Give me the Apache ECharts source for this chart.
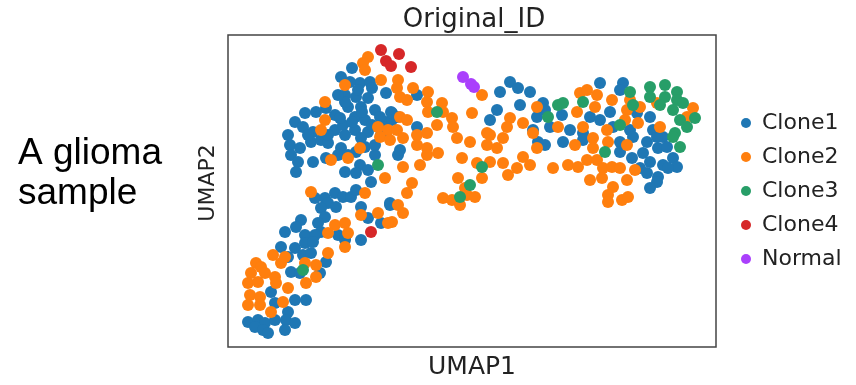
<!DOCTYPE html>
<html>
<head>
<meta charset="utf-8">
<script src="https://cdn.jsdelivr.net/npm/echarts@6/dist/echarts.min.js"></script>
<style>
  html, body { margin: 0; padding: 0; background: #fff; }
  #chart { width: 856px; height: 385px; }
</style>
</head>
<body>
<div id="chart"></div>
<script>
// UMAP coordinates (arbitrary units, x 0..488, y 0..312)
const categories = ["Clone1", "Clone2", "Clone3", "Clone4", "Normal"];
const colors = ["#1f77b4", "#ff7f0e", "#279e68", "#d62728", "#aa40fc"];

const clone1 = [
  [124,279],[113,270],[132,264],[142,265],[158,254],[117,252],[128,250],[140,249],[120,240],[133,240],
  [147,237],[163,235],[107,232],[98,239],[88,235],[77,234],[67,225],[75,220],[85,215],[107,217],
  [115,222],[127,230],[137,227],[127,217],[140,215],[158,225],[122,265],[130,257],[144,259],[134,235],
  [112,229],[124,225],[144,222],[152,230],[164,227],[117,245],[110,252],
  [282,265],[290,259],[302,255],[272,255],[269,237],[262,227],[292,242],[315,244],[317,237],[309,230],
  [322,220],[305,217],[189,252],[189,220],[164,234],[169,230],
  [372,264],[395,264],[392,257],[334,232],[362,230],[382,235],[385,220],[372,227],[342,217],[402,217],
  [422,230],[425,217],[435,210],[409,234],[355,214],
  [335,205],[355,207],[392,205],[405,210],[419,205],[429,210],[392,195],[404,189],[415,194],[430,199],
  [439,200],[422,185],[435,182],[445,189],[449,180],[412,179],[419,174],[430,170],[429,165],[422,159],
  [440,179],
  [170,192],[172,197],[162,144],[310,205],[317,202],
  [62,202],[72,199],[83,205],[93,207],[100,204],[113,199],[110,192],[120,192],[63,192],[70,185],
  [85,185],[98,189],[128,195],[137,200],[147,202],[132,182],[117,175],[128,174],[140,177],[143,165],
  [68,175],[87,149],[97,149],[107,154],[115,150],[123,150],[128,157],[100,144],[108,140],[93,139],
  [97,130],[90,124],[93,115],[73,127],[68,120],[57,115],[77,112],[87,112],[110,112],[117,109],
  [162,142],[133,140],[140,129],[153,124],[117,212],[133,209],[147,192],[153,212],[100,212],[80,212],
  [60,212],
  [53,100],[67,99],[77,104],[85,105],[60,90],[75,92],[83,94],[63,75],[72,74],[92,74],
  [98,85],[43,55],[47,44],[67,47],[78,47],[60,35],[58,27],[67,24],[57,17],[20,25],
  [30,27],[37,24],[27,20],[35,17],[47,27],[117,107],[133,107],[40,14]
];

const clone2 = [
  [140,290],[135,284],[137,277],[153,267],[117,262],[97,245],[97,227],[93,217],[150,220],[160,217],
  [170,267],[169,259],[185,259],[179,247],[172,250],[200,255],[199,245],[214,244],[215,235],[200,235],
  [244,234],[254,252],[224,229],[172,230],[179,227],[209,222],[225,220],[282,229],[279,220],[295,224],
  [309,240],[259,214],[305,214],[189,212],[199,214],[169,217],
  [352,254],[359,257],[369,252],[384,247],[349,235],[367,240],[399,237],[402,247],[412,240],[397,227],
  [410,224],[429,244],[465,239],[459,230],[330,220],[355,220],[432,220],[379,217],
  [325,179],[340,182],[350,180],[359,187],[365,199],[369,187],[375,179],[384,180],[392,179],[362,167],
  [374,169],[385,160],[399,167],[380,152],[380,145],[394,147],[400,150],[407,177],[347,202],[365,209],
  [380,205],[399,202],
  [175,209],[189,202],[199,199],[210,194],[199,192],[175,180],[192,182],[234,189],[249,184],[262,185],
  [275,184],[289,179],[295,190],[302,182],[280,172],[254,169],[230,169],[184,164],[179,154],[170,142],
  [175,134],[215,149],[224,147],[232,142],[239,152],[247,150],[237,159],[164,125],[229,209],[242,205],
  [259,202],[269,199],[275,209],[309,199],[262,212],
  [83,155],[137,154],[157,169],[152,210],[162,207],[103,187],[120,189],[133,132],[150,134],[160,124],
  [107,122],[117,124],[100,114],[120,114],[132,199],
  [45,92],[28,84],[33,80],[23,74],[37,74],[47,70],[20,64],[30,65],[48,64],[22,52],
  [32,50],[20,42],[32,42],[43,35],[55,45],[60,59],[77,84],[88,82],[88,70],[78,64],
  [100,94],[117,100],[53,84],[57,90]
];

const clone3 = [
  [209,235],[320,230],[330,242],[422,260],[437,262],[449,255],[422,250],[437,250],[449,247],[455,244],
  [445,237],[452,227],[467,229],[459,220],[447,214],[335,244],[355,245],[402,255],[405,242],[392,222],
  [432,242],[377,195],[452,200],[445,210],[254,180],[242,162],[232,150],[150,182],[75,77]
];

const clone4 = [[153,297],[171,293],[183,280],[158,286],[163,281],[143,115]];

const normal = [[235,270],[243,263],[246,260]];

const seriesData = [clone1, clone2, clone3, clone4, normal];

var chart = echarts.init(document.getElementById("chart"));

var option = {
  animation: false,
  color: colors,
  title: {
    text: "Original_ID",
    left: 469,
    top: 2,
    textAlign: "center",
    textStyle: { fontFamily: "DejaVu Sans", fontSize: 26, fontWeight: "normal", color: "#222" }
  },
  graphic: [
    {
      type: "text",
      left: 18,
      top: 134,
      style: {
        text: "A glioma\nsample",
        font: "37px 'Liberation Sans'",
        lineHeight: 40,
        fill: "#000"
      }
    }
  ],
  legend: {
    data: categories,
    orient: "vertical",
    left: 736,
    top: 107,
    icon: "circle",
    itemWidth: 10,
    itemHeight: 10,
    itemGap: 12,
    textStyle: { fontFamily: "DejaVu Sans", fontSize: 22, color: "#222", padding: [0, 0, 0, 6] }
  },
  grid: {
    left: 228,
    right: 140,
    top: 35,
    bottom: 38,
    show: true,
    borderColor: "#444",
    borderWidth: 1.5
  },
  xAxis: {
    type: "value",
    min: 0,
    max: 488,
    name: "UMAP1",
    nameLocation: "middle",
    nameGap: 8,
    nameTextStyle: { fontFamily: "DejaVu Sans", fontSize: 25, color: "#222", verticalAlign: "top" },
    axisLine: { show: false },
    axisTick: { show: false },
    axisLabel: { show: false },
    splitLine: { show: false }
  },
  yAxis: {
    type: "value",
    min: 0,
    max: 312,
    name: "UMAP2",
    nameLocation: "middle",
    nameGap: 9,
    nameTextStyle: { fontFamily: "DejaVu Sans", fontSize: 22, color: "#222", padding: [0, 0, 0, 16] },
    axisLine: { show: false },
    axisTick: { show: false },
    axisLabel: { show: false },
    splitLine: { show: false }
  },
  series: categories.map(function (name, i) {
    return {
      name: name,
      type: "scatter",
      data: seriesData[i],
      symbolSize: 12,
      itemStyle: { color: colors[i], opacity: 1 },
      emphasis: { disabled: true }
    };
  })
};

chart.setOption(option);
</script>
</body>
</html>
